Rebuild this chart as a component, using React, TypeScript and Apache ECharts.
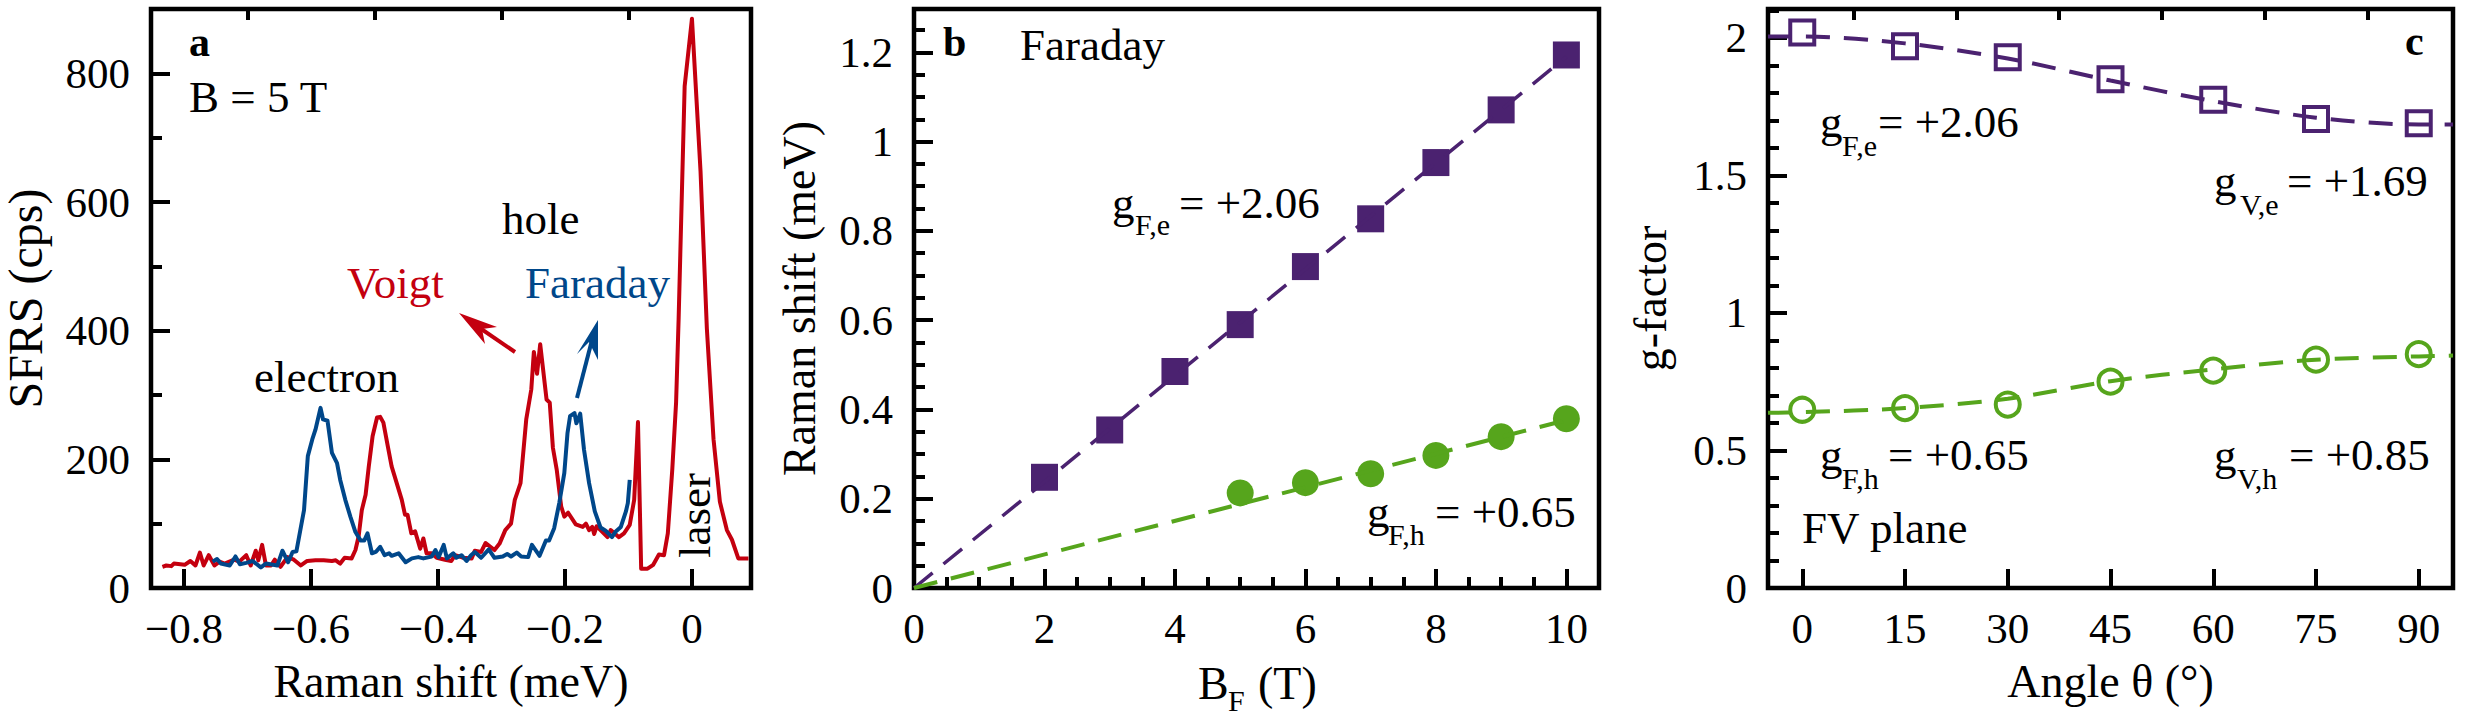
import React, { useEffect, useRef } from 'react';
import * as echarts from 'echarts';

const FONT = '"Liberation Serif"';
const RED = '#c4000f';
const BLUE = '#00478a';
const PURPLE = '#4b2270';
const GREEN = '#56a51c';

// panel a, spectra
const voigtShift = [
  -0.834, -0.828, -0.82, -0.816, -0.799, -0.79, -0.782, -0.775, -0.769, -0.761, -0.752, -0.744, -0.736, -0.721, -0.713,
  -0.702, -0.695, -0.687, -0.683, -0.677, -0.671, -0.663, -0.657, -0.648, -0.637, -0.627, -0.616, -0.606, -0.593, -0.58,
  -0.567, -0.561, -0.554, -0.547, -0.536, -0.53, -0.525, -0.52, -0.514, -0.509, -0.503, -0.496, -0.491, -0.486, -0.479,
  -0.473, -0.465, -0.457, -0.452, -0.448, -0.442, -0.436, -0.428, -0.423, -0.418, -0.41, -0.402, -0.389, -0.379, -0.373,
  -0.36, -0.347, -0.342, -0.332, -0.325, -0.311, -0.303, -0.294, -0.285, -0.279, -0.27, -0.261, -0.253, -0.249, -0.244,
  -0.239, -0.229, -0.224, -0.219, -0.213, -0.206, -0.201, -0.195, -0.183, -0.172, -0.167, -0.162, -0.157, -0.154, -0.15,
  -0.144, -0.133, -0.128, -0.122, -0.115, -0.107, -0.098, -0.091, -0.085, -0.08, -0.07, -0.061, -0.052, -0.044, -0.038,
  -0.031, -0.025, -0.021, -0.0115, 0, 0.0135, 0.0235, 0.034, 0.044, 0.055, 0.063, 0.073, 0.089,
];
const voigtCounts = [
  33, 35, 34, 38, 36, 42, 35, 55, 35, 51, 35, 41, 38, 44, 41,
  51, 35, 58, 43, 67, 35, 35, 44, 33, 48, 44, 35, 42, 43, 43,
  42, 43, 38, 47, 46, 59, 80, 121, 145, 189, 236, 265, 266, 257, 220,
  189, 163, 137, 114, 114, 85, 88, 61, 77, 54, 54, 47, 44, 42, 51,
  47, 46, 58, 56, 70, 59, 69, 90, 100, 137, 163, 262, 309, 367, 333,
  379, 293, 288, 218, 184, 127, 111, 117, 99, 95, 100, 90, 95, 84, 96,
  90, 79, 90, 85, 79, 85, 98, 137, 258, 30, 30, 36, 52, 51, 85,
  184, 288, 418, 780, 885, 648, 403, 231, 134, 90, 75, 46, 46,
];
const faradayShift = [
  -0.755, -0.748, -0.742, -0.728, -0.719, -0.712, -0.702, -0.692, -0.679, -0.671, -0.653, -0.645, -0.636, -0.629, -0.623,
  -0.611, -0.605, -0.598, -0.593, -0.585, -0.581, -0.574, -0.567, -0.559, -0.554, -0.546, -0.538, -0.53, -0.522, -0.516,
  -0.511, -0.504, -0.498, -0.491, -0.484, -0.477, -0.473, -0.462, -0.451, -0.441, -0.431, -0.423, -0.41, -0.404, -0.399,
  -0.391, -0.386, -0.376, -0.371, -0.363, -0.355, -0.348, -0.342, -0.332, -0.32, -0.311, -0.298, -0.291, -0.285, -0.276,
  -0.269, -0.258, -0.252, -0.24, -0.23, -0.225, -0.217, -0.209, -0.201, -0.196, -0.192, -0.185, -0.182, -0.176, -0.17,
  -0.162, -0.153, -0.144, -0.136, -0.126, -0.12, -0.112, -0.104, -0.101, -0.098,
];
const faradayCounts = [
  41, 45, 38, 35, 49, 37, 39, 42, 32, 38, 35, 58, 40, 56, 57,
  121, 205, 231, 246, 280, 262, 260, 210, 194, 168, 137, 111, 87, 74, 74,
  85, 54, 56, 64, 51, 54, 50, 54, 40, 46, 48, 46, 49, 59, 48,
  67, 46, 54, 47, 51, 42, 51, 56, 47, 60, 47, 49, 53, 49, 55,
  49, 48, 67, 50, 74, 74, 93, 132, 179, 241, 267, 272, 256, 271, 215,
  163, 119, 94, 89, 79, 88, 95, 119, 132, 168,
];
const shiftTicks = [-0.8, -0.6, -0.4, -0.2, 0];
const shiftMinorTicks = [-0.7, -0.5, -0.3, -0.1];

// panel b, splitting vs field
const fieldE = [2, 3, 4, 5, 6, 7, 8, 9, 10];
const splitE = [0.248, 0.354, 0.485, 0.59, 0.72, 0.827, 0.953, 1.071, 1.194];
const fieldH = [5, 6, 7, 8, 9, 10];
const splitH = [0.213, 0.236, 0.256, 0.297, 0.339, 0.379];
const fitFieldB = [0, 10];
const fitE = [0, 1.19];
const fitH = [0, 0.376];

// panel c, g-factor vs angle
const angles = [0, 15, 30, 45, 60, 75, 90];
const angleMinorTicks = [7.5, 22.5, 37.5, 52.5, 67.5, 82.5];
const gElectron = [2.02, 1.97, 1.93, 1.85, 1.775, 1.705, 1.69];
const gHole = [0.648, 0.654, 0.667, 0.75, 0.79, 0.83, 0.85];
const fitAngles = [-5, 0, 15, 30, 45, 60, 75, 90, 95];
const fitGe = [2.005, 2.005, 1.98, 1.925, 1.845, 1.77, 1.71, 1.685, 1.685];
const fitGh = [0.637, 0.639, 0.654, 0.688, 0.752, 0.795, 0.83, 0.842, 0.845];

const zip = (xs: number[], ys: number[]) => xs.map((x, i) => [x, ys[i]]);

// text by its baseline: the style only knows "middle", the font's centre sits about 0.3375em above the baseline
const txt = (x: number, base: number, text: string, size = 45, fill = '#000', weight = 'normal', rotation = 0) => ({
  type: 'text',
  x: x - Math.sin(rotation) * 0.3375 * size,
  y: base - Math.cos(rotation) * 0.3375 * size,
  rotation,
  silent: true,
  style: {
    text,
    fill,
    font: `${weight} ${size}px ${FONT}`,
    textAlign: 'left',
    verticalAlign: 'middle',
  },
});

// g with a subscript, then the value
const gLabel = (gx: number, base: number, subx: number, subBase: number, sub: string, eqx: number, value: string) => [
  txt(gx, base, 'g'),
  txt(subx, subBase, sub, 30),
  txt(eqx, base, value),
];

const arrow = (line: number[][], head: number[][], color: string) => [
  { type: 'polyline', silent: true, shape: { points: line }, style: { stroke: color, lineWidth: 4, fill: 'none' } },
  { type: 'polygon', silent: true, shape: { points: head }, style: { fill: color } },
];

const axisBase = (interval: number, minor: number, min: number, max: number) => ({
  type: 'value',
  min,
  max,
  interval,
  splitLine: { show: false },
  axisLine: { show: false, onZero: false },
  axisTick: { show: true, inside: true, length: 19, lineStyle: { color: '#000', width: 4 } },
  minorTick: { show: minor > 0, splitNumber: minor || 2, length: 11, lineStyle: { color: '#000', width: 4 } },
  minorSplitLine: { show: false },
  nameLocation: 'middle',
  nameTextStyle: { color: '#000', fontFamily: FONT, fontSize: 46 },
});

const labelStyle = (margin: number) => ({ color: '#000', fontFamily: FONT, fontSize: 43, margin });
const minusFmt = (v: number) => String(v).replace('-', '\u2212');

// an axis that only draws the short ticks, for scales whose min is no multiple of the step
const minorAxis = (gridIndex: number, min: number, max: number, values: number[]) => ({
  type: 'value',
  gridIndex,
  min,
  max,
  splitLine: { show: false },
  axisLine: { show: false, onZero: false },
  axisLabel: { show: false },
  axisTick: { show: true, inside: true, length: 11, customValues: values, lineStyle: { color: '#000', width: 4 } },
});

export default function App() {
  const ref = useRef<HTMLDivElement>(null);

  useEffect(() => {
    const chart = echarts.init(ref.current!, undefined, { renderer: 'svg' });
    const gridBase = { show: true, borderColor: '#000', borderWidth: 4.5, backgroundColor: '#fff', top: 9, height: 579 };
    const major = axisBase(0.2, 0, -0.852, 0.093);
    const majorC = axisBase(15, 0, -5, 95);
    chart.setOption({
      animation: false,
      backgroundColor: '#fff',
      grid: [
        { ...gridBase, left: 148, width: 603 },
        { ...gridBase, left: 914, width: 685 },
        { ...gridBase, left: 1768, width: 685 },
      ],
      xAxis: [
        {
          ...major,
          gridIndex: 0,
          name: 'Raman shift (meV)',
          nameGap: 70,
          axisTick: { ...major.axisTick, customValues: shiftTicks },
          axisLabel: { ...labelStyle(19), formatter: minusFmt, customValues: shiftTicks },
        },
        {
          ...axisBase(2, 4, 0, 10.5),
          gridIndex: 1,
          axisLabel: { ...labelStyle(19), showMaxLabel: false },
        },
        {
          ...majorC,
          gridIndex: 2,
          name: 'Angle \u03b8 (\u00b0)',
          nameGap: 70,
          axisTick: { ...majorC.axisTick, customValues: angles },
          axisLabel: { ...labelStyle(19), customValues: angles },
        },
        minorAxis(0, -0.852, 0.093, shiftMinorTicks),
        minorAxis(2, -5, 95, angleMinorTicks),
      ],
      yAxis: [
        {
          ...axisBase(200, 2, 0, 900),
          gridIndex: 0,
          name: 'SFRS (cps)',
          nameGap: 102,
          nameTextStyle: { color: '#000', fontFamily: FONT, fontSize: 48 },
          axisLabel: { ...labelStyle(21), showMaxLabel: false },
        },
        {
          ...axisBase(0.2, 4, 0, 1.297),
          gridIndex: 1,
          name: 'Raman shift (meV)',
          nameGap: 92,
          axisLabel: { ...labelStyle(21), showMaxLabel: false },
        },
        {
          ...axisBase(0.5, 5, 0, 2.105),
          gridIndex: 2,
          name: 'g-factor',
          nameGap: 95,
          axisLabel: { ...labelStyle(21), showMaxLabel: false },
        },
      ],
      series: [
        {
          type: 'line',
          xAxisIndex: 0,
          yAxisIndex: 0,
          data: zip(voigtShift, voigtCounts),
          showSymbol: false,
          lineStyle: { color: RED, width: 4, join: 'round' },
        },
        {
          type: 'line',
          xAxisIndex: 0,
          yAxisIndex: 0,
          data: zip(faradayShift, faradayCounts),
          showSymbol: false,
          lineStyle: { color: BLUE, width: 4, join: 'round' },
        },
        {
          type: 'line',
          xAxisIndex: 1,
          yAxisIndex: 1,
          data: zip(fitFieldB, fitE),
          showSymbol: false,
          lineStyle: { color: PURPLE, width: 3.5, type: [24, 14] },
        },
        {
          type: 'line',
          xAxisIndex: 1,
          yAxisIndex: 1,
          data: zip(fitFieldB, fitH),
          showSymbol: false,
          lineStyle: { color: GREEN, width: 4, type: [24, 14] },
        },
        {
          type: 'scatter',
          xAxisIndex: 1,
          yAxisIndex: 1,
          data: zip(fieldE, splitE),
          symbol: 'rect',
          symbolSize: 27,
          itemStyle: { color: PURPLE, opacity: 1 },
        },
        {
          type: 'scatter',
          xAxisIndex: 1,
          yAxisIndex: 1,
          data: zip(fieldH, splitH),
          symbol: 'circle',
          symbolSize: 27,
          itemStyle: { color: GREEN, opacity: 1 },
        },
        {
          type: 'line',
          xAxisIndex: 2,
          yAxisIndex: 2,
          data: zip(fitAngles, fitGe),
          showSymbol: false,
          smooth: 0.3,
          lineStyle: { color: PURPLE, width: 4, type: [24, 14] },
        },
        {
          type: 'line',
          xAxisIndex: 2,
          yAxisIndex: 2,
          data: zip(fitAngles, fitGh),
          showSymbol: false,
          smooth: 0.3,
          lineStyle: { color: GREEN, width: 4, type: [24, 14] },
        },
        {
          type: 'scatter',
          xAxisIndex: 2,
          yAxisIndex: 2,
          data: zip(angles, gElectron),
          symbol: 'rect',
          symbolSize: 24,
          itemStyle: { color: 'none', borderColor: PURPLE, borderWidth: 4, opacity: 1 },
        },
        {
          type: 'scatter',
          xAxisIndex: 2,
          yAxisIndex: 2,
          data: zip(angles, gHole),
          symbol: 'circle',
          symbolSize: 24,
          itemStyle: { color: 'none', borderColor: GREEN, borderWidth: 4, opacity: 1 },
        },
      ],
      graphic: [
        // panel a
        txt(189, 56, 'a', 42, '#000', 'bold'),
        txt(189, 112, 'B = 5 T'),
        txt(502, 234, 'hole'),
        txt(347, 298, 'Voigt', 45, RED),
        txt(525, 298, 'Faraday', 45, BLUE),
        txt(254, 392, 'electron'),
        txt(710, 558, 'laser', 45, '#000', 'normal', Math.PI / 2),
        ...arrow([[515, 352], [474, 324]], [[459, 313], [497, 327], [482, 329], [485, 344]], RED),
        ...arrow([[577, 398], [592, 340]], [[598, 320], [598, 360], [589, 342], [577, 354]], BLUE),
        // panel b
        txt(943, 56, 'b', 42, '#000', 'bold'),
        txt(1020, 60, 'Faraday'),
        ...gLabel(1112, 218, 1135, 235, 'F,e', 1179, '= +2.06'),
        ...gLabel(1367, 527, 1388, 545, 'F,h', 1435, '= +0.65'),
        txt(1198, 699, 'B', 46),
        txt(1228, 711, 'F', 30),
        txt(1258, 699, '(T)', 46),
        // panel c
        txt(2405, 55, 'c', 42, '#000', 'bold'),
        ...gLabel(1820, 137, 1842, 156, 'F,e', 1878, '= +2.06'),
        ...gLabel(2214, 196, 2240, 215, 'V,e', 2287, '= +1.69'),
        ...gLabel(1820, 470, 1842, 489, 'F,h', 1888, '= +0.65'),
        ...gLabel(2214, 470, 2237, 489, 'V,h', 2289, '= +0.85'),
        txt(1802, 543, 'FV plane'),
      ],
    });
    return () => chart.dispose();
  }, []);

  return <div ref={ref} style={{ position: 'fixed', left: 0, top: 0, width: 2480, height: 720 }} />;
}
